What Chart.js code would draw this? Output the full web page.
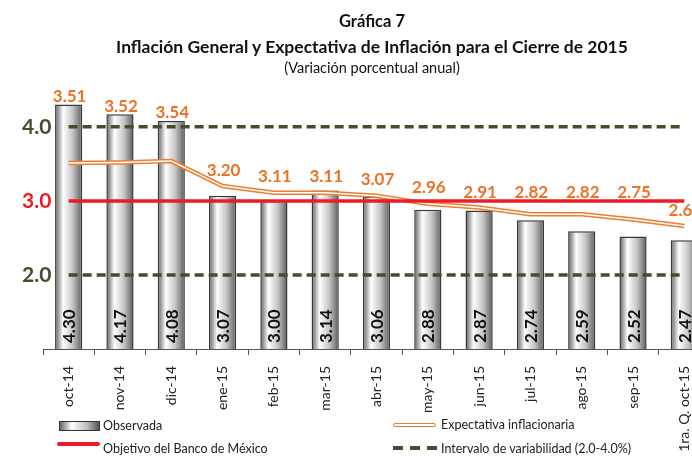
<!DOCTYPE html>
<html>
<head>
<meta charset="utf-8">
<script src="https://cdn.jsdelivr.net/npm/chart.js@4.4.1/dist/chart.umd.min.js"></script>
<style>
    body { margin: 0; overflow: hidden; background: #fff; font-family: Lato, sans-serif; color: #222; }
    #wrap { position: relative; width: 744px; height: 456px; }
    #wrap canvas { position: absolute; left: 0; top: 0; }
    .t { position: absolute; left: 0; width: 744px; text-align: center; color: #111; }
    .lg { position: absolute; font-size: 12.5px; line-height: 16px; white-space: nowrap; }
    .ic { position: absolute; }
</style>
</head>
<body>
<div id="wrap">
    <canvas id="grafica" width="744" height="456"></canvas>
    <div class="t" style="top:11px;font:bold 16.5px/20px Lato">Gráfica 7</div>
    <div class="t" style="top:37px;font:bold 17.5px/20px Lato">Inflación General y Expectativa de Inflación para el Cierre de 2015</div>
    <div class="t" style="top:59px;font:14.5px/18px Lato">(Variación porcentual anual)</div>

    <!-- leyenda -->
    <div class="ic" style="left:59px;top:421px;width:39px;height:8px;border:1px solid #333;background:linear-gradient(to right,#666,#fff 30%,#bbb 70%,#555)"></div>
    <div class="lg" style="left:103px;top:418px">Observada</div>
    <div class="ic" style="left:57px;top:442px;width:43px;height:4px;background:#ed1c24;border-radius:2px"></div>
    <div class="lg" style="left:103px;top:441px">Objetivo del Banco de México</div>
    <div class="ic" style="left:393px;top:423px;width:41px;height:2px;border:1.5px solid #ed7d31;background:#fff;border-radius:3px"></div>
    <div class="lg" style="left:441px;top:417px">Expectativa inflacionaria</div>
    <div class="ic" style="left:393px;top:446px;width:44px;height:4px;background:repeating-linear-gradient(to right,#4a4a2e 0 10px,transparent 10px 17px)"></div>
    <div class="lg" style="left:441px;top:441px">Intervalo de variabilidad (2.0-4.0%)</div>
</div>

<script>
// meses
var categorias = ['oct-14', 'nov-14', 'dic-14', 'ene-15', 'feb-15', 'mar-15', 'abr-15', 'may-15', 'jun-15', 'jul-15', 'ago-15', 'sep-15', '1ra. Q. oct-15'];

// inflación observada (barras)
var observada = [4.30, 4.17, 4.08, 3.07, 3.00, 3.14, 3.06, 2.88, 2.87, 2.74, 2.59, 2.52, 2.47];

// expectativa para el cierre de 2015
var expectativa = [3.51, 3.52, 3.54, 3.20, 3.11, 3.11, 3.07, 2.96, 2.91, 2.82, 2.82, 2.75, 2.66];

// objetivo e intervalo de variabilidad
var objetivo = [3.0, 3.0, 3.0, 3.0, 3.0, 3.0, 3.0, 3.0, 3.0, 3.0, 3.0, 3.0, 3.0];
var limiteSup = [4.0, 4.0, 4.0, 4.0, 4.0, 4.0, 4.0, 4.0, 4.0, 4.0, 4.0, 4.0, 4.0];
var limiteInf = [2.0, 2.0, 2.0, 2.0, 2.0, 2.0, 2.0, 2.0, 2.0, 2.0, 2.0, 2.0, 2.0];

var ticksY = [2.0, 3.0, 4.0];

var naranja = '#ed7d31';
var rojo = '#ed1c24';
var olivo = '#4a4a2e';

// degradado tipo cilindro para cada barra
var cilindro = {
    id: 'cilindro',
    beforeDatasetsDraw: function (chart) {
        var ctx = chart.ctx;
        chart.getDatasetMeta(0).data.forEach(function (bar) {
            var g = ctx.createLinearGradient(bar.x - bar.width / 2, 0, bar.x + bar.width / 2, 0);
            g.addColorStop(0, '#5e5e5e');
            g.addColorStop(0.3, '#ffffff');
            g.addColorStop(0.65, '#c4c4c4');
            g.addColorStop(0.9, '#7a7a7a');
            g.addColorStop(1, '#555555');
            bar.options = Object.assign({}, bar.options, { backgroundColor: g });
        });
    }
};

// etiquetas de valores
var etiquetas = {
    id: 'etiquetas',
    afterDatasetsDraw: function (chart) {
        var ctx = chart.ctx;
        var barras = chart.getDatasetMeta(0).data;
        var linea = chart.getDatasetMeta(2).data;
        var y0 = chart.scales.y.getPixelForValue(1.0);
        var yObj = chart.scales.y.getPixelForValue(3.0);

        ctx.save();
        ctx.font = 'bold 17px Lato';
        ctx.fillStyle = '#111';
        ctx.textAlign = 'left';
        ctx.textBaseline = 'middle';
        barras.forEach(function (bar, i) {
            ctx.save();
            ctx.translate(bar.x + 1, y0 - 6);
            ctx.rotate(-Math.PI / 2);
            ctx.fillText(observada[i].toFixed(2), 0, 0);
            ctx.restore();
        });

        ctx.fillStyle = '#ec7326';
        ctx.textAlign = 'center';
        linea.forEach(function (pt, i) {
            var y = Math.min(pt.y - 16, barras[i].y - 8);
            // no encimar la etiqueta sobre la línea del objetivo
            if (y > yObj - 11 && y < yObj + 8) y = yObj - 8;
            ctx.fillText(expectativa[i].toFixed(2), pt.x + 1, y);
        });
        ctx.restore();
    }
};

new Chart(document.getElementById('grafica'), {
    type: 'bar',
    data: {
        labels: categorias,
        datasets: [{
            label: 'Observada',
            data: observada,
            backgroundColor: function () { return '#c8c8c8'; },
            borderColor: '#3a3a3a',
            borderWidth: 1.5,
            barPercentage: 0.53,
            categoryPercentage: 1.0,
            order: 10
        }, {
            /* borde naranja de la línea doble */
            type: 'line',
            label: 'Expectativa inflacionaria',
            data: expectativa,
            borderColor: naranja,
            borderWidth: 4.5,
            pointRadius: 0,
            tension: 0,
            order: 4
        }, {
            /* centro blanco de la línea doble */
            type: 'line',
            label: 'Expectativa (centro)',
            data: expectativa,
            borderColor: '#ffffff',
            borderWidth: 1.5,
            pointRadius: 0,
            tension: 0,
            order: 3
        }, {
            type: 'line',
            label: 'Objetivo del Banco de México',
            data: objetivo,
            borderColor: rojo,
            borderWidth: 3.5,
            pointRadius: 0,
            order: 1
        }, {
            type: 'line',
            label: 'Intervalo sup',
            data: limiteSup,
            borderColor: olivo,
            borderWidth: 3.5,
            borderDash: [9, 5],
            pointRadius: 0,
            order: 5
        }, {
            type: 'line',
            label: 'Intervalo inf',
            data: limiteInf,
            borderColor: olivo,
            borderWidth: 3.5,
            borderDash: [9, 5],
            pointRadius: 0,
            order: 5
        }]
    },
    options: {
        responsive: false,
        animation: false,
        layout: {
            padding: { top: 75, right: 34, bottom: 0, left: 0 }
        },
        plugins: {
            legend: { display: false },
            tooltip: { enabled: false }
        },
        scales: {
            x: {
                afterFit: function (s) { s.height = 107; },
                grid: {
                    offset: true,
                    drawOnChartArea: false,
                    tickLength: 6,
                    color: '#555'
                },
                border: { color: '#555', width: 1 },
                ticks: {
                    minRotation: 90,
                    maxRotation: 90,
                    padding: 11,
                    color: '#222',
                    font: { family: 'Lato', size: 14 }
                }
            },
            y: {
                min: 1.0,
                max: 4.7,
                afterFit: function (s) { s.width = 43; },
                afterBuildTicks: function (s) {
                    s.ticks = ticksY.map(function (v) { return { value: v }; });
                },
                grid: { display: false, drawTicks: false },
                border: { display: false },
                ticks: {
                    mirror: true,
                    padding: -21,
                    callback: function (v) { return v.toFixed(1); },
                    color: function (c) { return c.tick && c.tick.value === 3 ? rojo : olivo; },
                    font: { family: 'Lato', size: 21, weight: 'bold' }
                }
            }
        }
    },
    plugins: [cilindro, etiquetas]
});
</script>
</body>
</html>
